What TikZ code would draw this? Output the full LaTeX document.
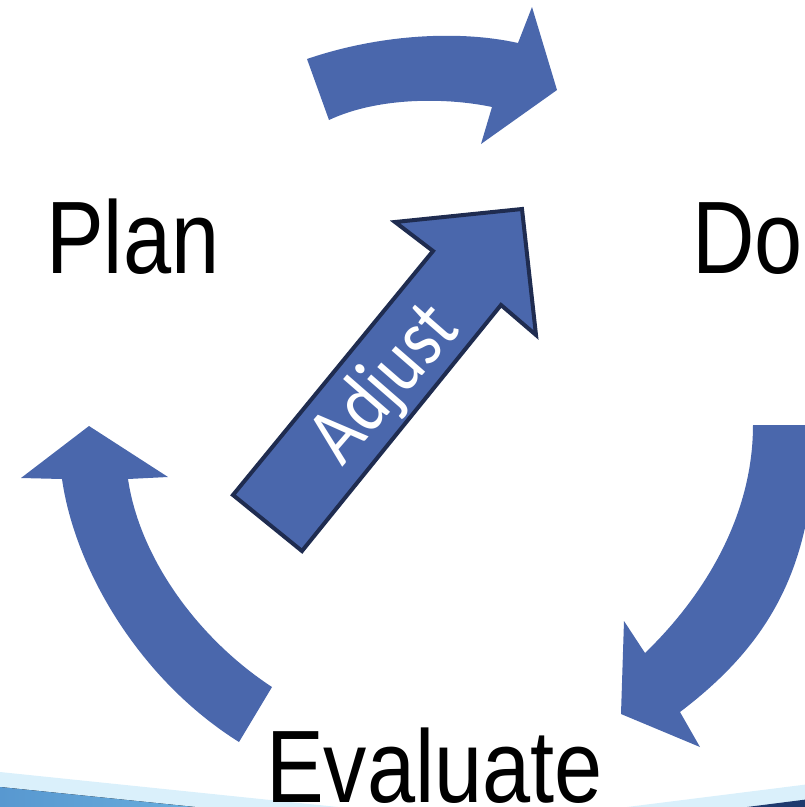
\documentclass[tikz,border=0pt]{standalone}
\usepackage{fontspec}
\setmainfont{Liberation Sans}
\newfontfamily\adjfont{Carlito}
\definecolor{arrowblue}{RGB}{74,103,172}
\definecolor{adjline}{RGB}{31,44,80}
\definecolor{bandlight}{RGB}{218,240,251}
\definecolor{bandmid}{RGB}{104,172,220}
\definecolor{bandmidL}{RGB}{88,152,208}
\definecolor{bandnavy}{RGB}{31,58,110}
\begin{document}
\begin{tikzpicture}[x=1pt,y=-1pt,
  cyc/.style={fill=arrowblue, draw=none},
  lbl/.style={font=\fontsize{103}{110}\selectfont, text=black, inner sep=0pt, anchor=base west, xscale=0.84}]
\useasboundingbox (0,0) rectangle (805,807);
\begin{scope}
\clip (0,0) rectangle (805,807);
% bottom bands
\fill[bandlight] (0,772) -- (338,807) -- (0,807) -- cycle;
\fill[left color=bandmidL, right color=bandmid] (0,787) -- (195,807) -- (0,807) -- cycle;
\fill[bandlight] (810,784) -- (627,807) -- (810,807) -- cycle;
\fill[bandnavy] (810,799) -- (747,807) -- (810,807) -- cycle;
% cycle arrows
\fill[cyc] (307,59) .. controls (380,34) and (460,30) .. (518,43) -- (532,7) -- (557,90) -- (481,144) -- (492,107) .. controls (450,98) and (380,96) .. (329,120) -- cycle;
\fill[cyc] (753,425) -- (815,425) .. controls (815,560) and (775,640) .. (680,712) -- (700,747) -- (621,714) -- (624,621) -- (645,653) .. controls (700,600) and (753,520) .. (753,425) -- cycle;
\fill[cyc] (239,742) .. controls (140,680) and (75,570) .. (62,479) -- (21,478) -- (89,426) -- (168,477) -- (128,479) .. controls (140,560) and (200,640) .. (272,687) -- cycle;
% adjust arrow
\draw[draw=adjline, fill=arrowblue, line width=4, miter limit=4] (233,495) -- (433,251) -- (395,222) -- (522,209) -- (536,335) -- (501,305) -- (302,551) -- cycle;
\node[font=\adjfont\fontsize{82}{88}\selectfont, text=white, inner sep=0pt, anchor=base, rotate=49, xscale=0.86] (adj) at (402,399) {Adjust};
% labels
\node[lbl] (plan) at (46,273) {Plan};
\node[lbl] (do) at (692,273) {Do};
\node[lbl] (eval) at (266,802) {Evaluate};
\end{scope}
\end{tikzpicture}
\end{document}
